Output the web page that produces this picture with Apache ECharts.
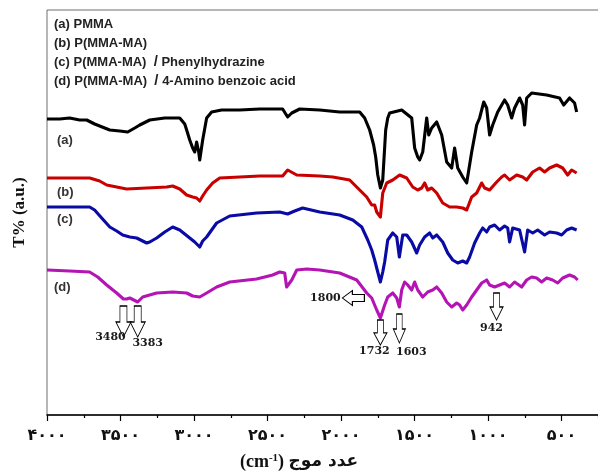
<!DOCTYPE html>
<html>
<head>
<meta charset="utf-8">
<script src="https://cdn.jsdelivr.net/npm/echarts@6/dist/echarts.min.js"></script>
<style>
  html, body { margin: 0; padding: 0; background: #fff; }
  #chart { width: 598px; height: 473px; }
</style>
</head>
<body>
<div id="chart"></div>
<script>
// FTIR transmittance spectra, [wavenumber (cm-1), T (a.u.)], traces stacked with vertical offsets
const pmma = [
  [4000,296],[3914,296],[3846,297],[3778,295],[3730,295],[3676,291],[3573,285],[3505,284],[3451,283],
  [3403,287],[3369,290],[3301,295],[3199,297],[3097,297],[3063,291],[3050,285],[3029,275],[3009,267],
  [2995,263],[2982,273],[2968,263],[2961,255],[2941,275],[2914,297],[2880,303],[2812,305],[2689,305],
  [2553,306],[2397,306],[2363,298],[2335,302],[2281,306],[2145,305],[2009,303],[1873,303],[1839,297],
  [1805,285],[1778,270],[1764,258],[1750,240],[1732,227],[1716,235],[1696,285],[1682,297],[1669,302],
  [1587,305],[1519,297],[1499,267],[1478,258],[1465,255],[1444,263],[1417,297],[1403,280],[1383,287],
  [1349,293],[1315,280],[1281,253],[1247,247],[1227,267],[1206,247],[1172,238],[1145,232],[1111,263],
  [1077,290],[1057,297],[1029,313],[1009,307],[989,280],[968,290],[934,303],[887,315],[866,310],
  [839,297],[819,307],[785,317],[764,310],[751,290],[737,317],[703,322],[601,320],[513,317],[485,310],
  [445,317],[411,312],[397,303]
];
const pmmaMa = [
  [4000,237],[3846,237],[3710,237],[3642,234],[3594,230],[3526,228],[3458,226],[3322,227],[3186,228],
  [3145,229],[3097,226],[3050,220],[3009,218],[2982,217],[2961,214],[2941,219],[2914,225],[2873,232],
  [2825,237],[2689,238],[2553,239],[2397,239],[2363,245],[2301,240],[2145,239],[2056,238],[1941,235],
  [1873,225],[1825,218],[1791,210],[1771,210],[1757,203],[1732,198],[1716,222],[1689,232],[1648,235],
  [1601,240],[1553,237],[1512,228],[1478,225],[1451,227],[1431,232],[1410,225],[1383,227],[1349,222],
  [1308,212],[1261,208],[1213,208],[1172,207],[1145,205],[1111,218],[1077,222],[1043,232],[1023,227],
  [989,225],[941,233],[907,238],[887,240],[853,235],[805,240],[764,238],[737,235],[696,243],[649,247],
  [615,243],[581,247],[533,250],[492,247],[458,240],[431,245],[397,242]
];
const pmmaMaPh = [
  [4000,208],[3846,208],[3710,208],[3676,205],[3628,197],[3573,188],[3526,184],[3485,180],[3437,178],
  [3390,177],[3322,172],[3301,173],[3254,177],[3199,183],[3145,188],[3097,185],[3029,177],[2995,173],
  [2961,168],[2941,174],[2914,178],[2846,192],[2757,199],[2574,202],[2417,203],[2363,201],[2315,204],
  [2261,207],[2145,203],[2009,200],[1920,195],[1859,188],[1818,175],[1791,165],[1771,155],[1750,143],
  [1732,133],[1716,143],[1703,153],[1682,175],[1648,182],[1621,178],[1603,158],[1580,180],[1553,180],
  [1519,173],[1485,162],[1465,170],[1431,178],[1397,182],[1376,177],[1349,180],[1308,173],[1274,162],
  [1240,155],[1206,152],[1172,154],[1145,152],[1125,158],[1091,172],[1057,182],[1036,187],[1009,183],
  [989,188],[955,190],[921,185],[887,189],[866,187],[853,173],[832,187],[785,185],[751,163],[730,185],
  [696,182],[662,185],[615,180],[581,183],[533,182],[499,180],[465,185],[431,187],[397,185]
];
const pmmaMaAba = [
  [4000,145],[3846,144],[3710,143],[3655,138],[3594,130],[3526,122],[3480,116],[3458,116],[3437,117],
  [3383,113],[3349,118],[3254,122],[3145,123],[3050,122],[3009,119],[2961,118],[2914,122],[2846,128],
  [2757,133],[2574,136],[2465,140],[2417,143],[2383,142],[2370,128],[2335,135],[2301,145],[2233,146],
  [2145,145],[2009,142],[1893,135],[1825,122],[1791,117],[1757,105],[1732,97],[1703,110],[1682,118],
  [1648,122],[1621,117],[1603,108],[1587,125],[1567,133],[1546,130],[1519,125],[1499,133],[1478,125],
  [1444,118],[1410,123],[1376,125],[1349,128],[1315,122],[1281,113],[1247,108],[1213,112],[1193,110],
  [1172,105],[1145,110],[1111,118],[1077,125],[1043,132],[1009,135],[989,130],[955,128],[921,130],
  [887,132],[853,128],[819,133],[771,128],[737,135],[703,138],[669,137],[635,133],[601,137],[560,135],
  [526,132],[492,137],[445,140],[411,138],[390,135]
];

// Marked band positions (cm-1) and the arrow anchor heights on trace (d)
const bandNames = ['3480', '3383', '1800', '1732', '1603', '942'];
const bandAnchor = [93.5, 93.5, 117, 82.5, 86.5, 108.5];

const seriesNames = ['(a) PMMA', '(b) P(MMA-MA)', '(c) P(MMA-MA)', '(d) P(MMA-MA)'];
const tickValues = [4000, 3500, 3000, 2500, 2000, 1500, 1000, 500];

const persianDigits = '۰۱۲۳۴۵۶۷۸۹';
function toPersian(n) { return String(n).replace(/\d/g, d => persianDigits[d]); }

const downArrow = 'path://M4,0 L11,0 L11,16 L15,16 L7.5,31 L0,16 L4,16 Z';
const leftArrow = 'path://M22,4 L22,11 L10,11 L10,15 L0,7.5 L10,0 L10,4 Z';

const arrowStyle = { color: '#ffffff', borderColor: '#000000', borderWidth: 1 };
const arrowLayout = [
  { size: [15, 31], sym: downArrow, off: [0, 0], lab: [-13, 15.5] },
  { size: [15, 31], sym: downArrow, off: [0, 0], lab: [10, 21.5] },
  { size: [22, 15], sym: leftArrow, off: [-17, 0], lab: [-28, 0] },
  { size: [13, 25], sym: downArrow, off: [0, 0], lab: [-6, 18.5] },
  { size: [12, 29], sym: downArrow, off: [0, 0], lab: [12, 23.5] },
  { size: [13, 27], sym: downArrow, off: [0, 0], lab: [-5, 21.5] }
];
const bandMarks = bandNames.map((name, i) => ({
  name: name,
  coord: [Number(name), bandAnchor[i]],
  symbol: arrowLayout[i].sym,
  symbolSize: arrowLayout[i].size,
  symbolOffset: arrowLayout[i].off,
  itemStyle: arrowStyle,
  label: {
    show: true, formatter: name, position: 'inside', offset: arrowLayout[i].lab,
    color: '#1a1a1a', fontFamily: 'DejaVu Serif', fontWeight: 'bold', fontSize: 11
  }
}));

function trace(name, data, color, extra) {
  return Object.assign({
    name: name, type: 'line', data: data, symbol: 'none', smooth: false,
    lineStyle: { color: color, width: 3.1, join: 'round' }, itemStyle: { color: color },
    silent: true, animation: false
  }, extra || {});
}

const chart = echarts.init(document.getElementById('chart'), null, { renderer: 'canvas' });

const legendFont = 'bold 13px "Liberation Sans", Arial, sans-serif';
const legendRich = { s: { fontSize: 15, fontWeight: 'bold', fontFamily: '"Liberation Sans", Arial, sans-serif', fill: '#222' } };
const legendLines = [
  seriesNames[0],
  seriesNames[1],
  seriesNames[2] + '  {s|/} Phenylhydrazine',
  seriesNames[3] + '  {s|/} 4-Amino benzoic acid'
];
const legendY = [24, 43, 62, 81];
const traceTags = ['(a)', '(b)', '(c)', '(d)'];
const traceTagPos = [[57, 140], [57, 192], [57, 219], [54, 287]];

chart.setOption({
  backgroundColor: '#ffffff',
  animation: false,
  grid: {
    left: 47, right: -37, top: 10, bottom: 58,
    show: true, borderColor: '#6e6e6e', borderWidth: 1,
    outerBoundsMode: 'none'
  },
  xAxis: {
    type: 'value', inverse: true, min: 0, max: 4000, interval: 500,
    axisLine: { show: true, onZero: false, lineStyle: { color: '#000', width: 1.5 } },
    axisTick: { show: true, length: 6, lineStyle: { color: '#000', width: 1.2 } },
    minorTick: { show: true, splitNumber: 2, length: 3, lineStyle: { color: '#000', width: 1.2 } },
    splitLine: { show: false },
    axisLabel: {
      margin: 13, color: '#111', fontSize: 16, fontWeight: 'bold',
      fontFamily: '"DejaVu Sans", sans-serif',
      formatter: v => tickValues.includes(v) ? toPersian(v) : ''
    }
  },
  yAxis: {
    type: 'value', min: 0, max: 405,
    name: 'T% (a.u.)', nameLocation: 'middle', nameGap: 19,
    nameTextStyle: { fontFamily: '"Liberation Serif", serif', fontWeight: 'bold', fontSize: 17, color: '#111' },
    axisLine: { show: true, lineStyle: { color: '#333', width: 1.2 } },
    axisTick: { show: false }, axisLabel: { show: false }, splitLine: { show: false }
  },
  series: [
    trace(seriesNames[0], pmma, '#000000'),
    trace(seriesNames[1], pmmaMa, '#c80000'),
    trace(seriesNames[2], pmmaMaPh, '#0a0aa5'),
    trace(seriesNames[3], pmmaMaAba, '#b414b4', { markPoint: { silent: true, data: bandMarks } })
  ],
  graphic: [].concat(
    legendLines.map((t, i) => ({
      type: 'text', x: 54, y: legendY[i],
      style: { text: t, font: legendFont, fill: '#222', align: 'left', verticalAlign: 'middle', rich: legendRich }
    })),
    traceTags.map((t, i) => ({
      type: 'text', x: traceTagPos[i][0], y: traceTagPos[i][1],
      style: { text: t, font: 'bold 13px "Liberation Sans", Arial, sans-serif', fill: '#333', align: 'left', verticalAlign: 'middle' }
    })),
    [{
      type: 'text', x: 299, y: 462,
      style: {
        text: '(cm{sup|-1}) {ar|عدد موج}',
        font: 'bold 18px "Liberation Serif", serif', fill: '#111', align: 'center', verticalAlign: 'middle',
        rich: {
          sup: { fontSize: 11, fontWeight: 'bold', fontFamily: '"Liberation Serif", serif', verticalAlign: 'top', fill: '#111' },
          ar: { fontSize: 17, fontWeight: 'bold', fontFamily: '"DejaVu Sans", sans-serif', fill: '#111' }
        }
      }
    }]
  )
});
</script>
</body>
</html>
